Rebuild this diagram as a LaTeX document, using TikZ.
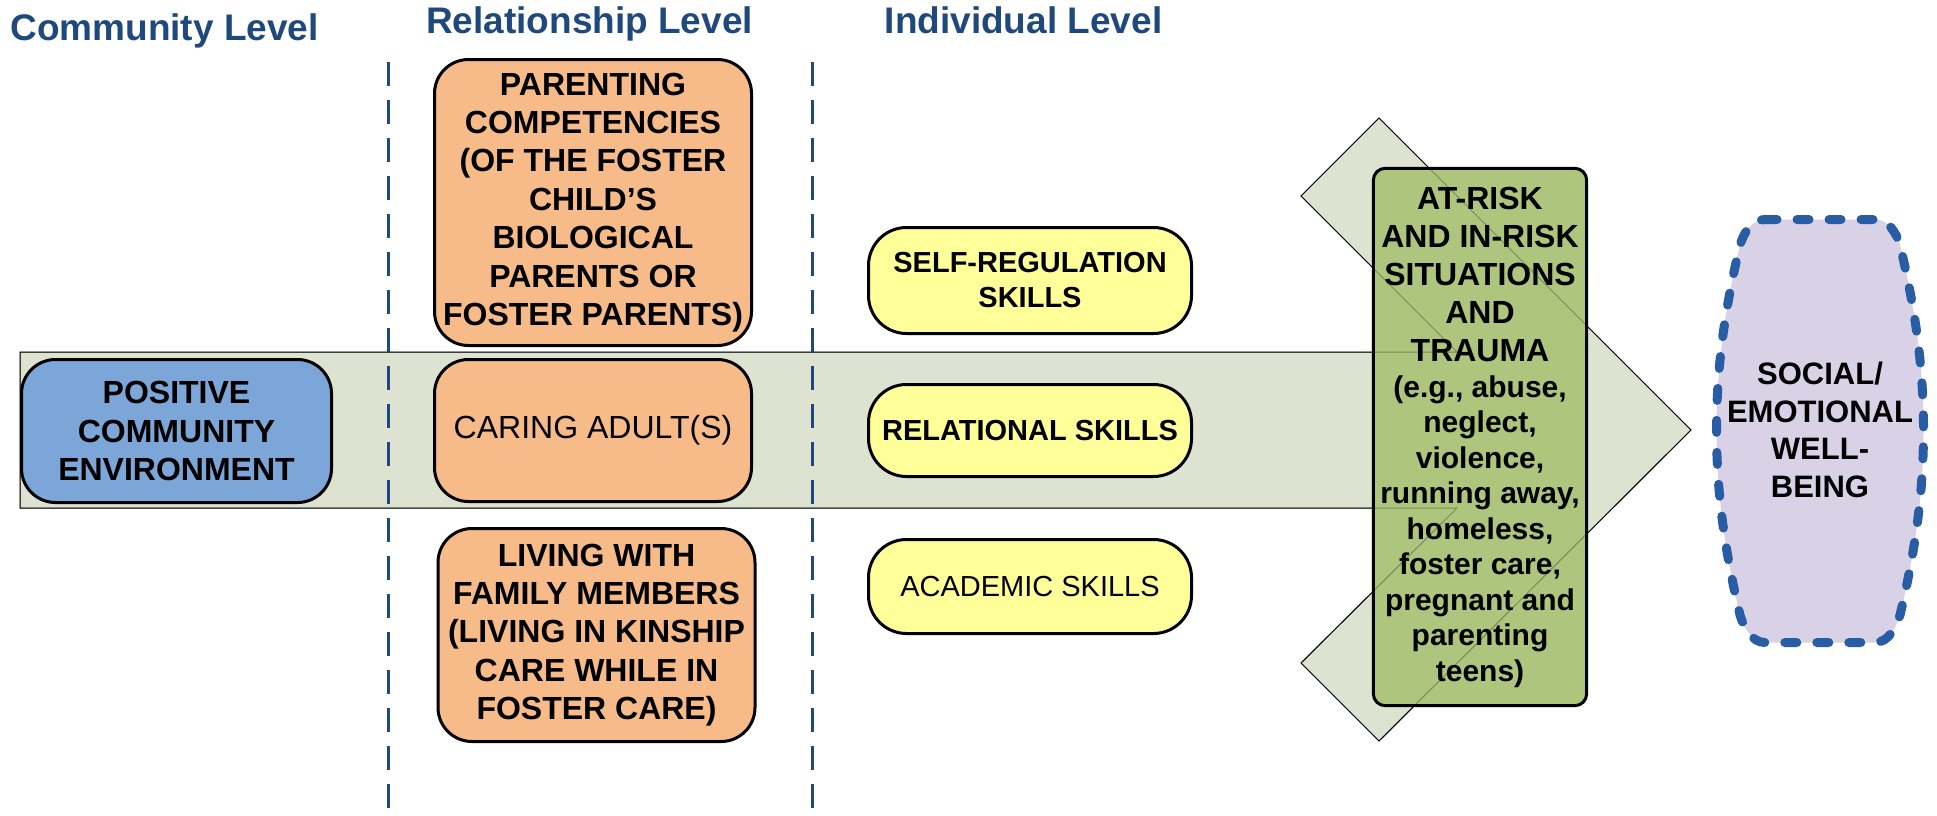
\documentclass[tikz,border=0pt]{standalone}
\usepackage{fontspec}
\setmainfont{Liberation Sans}
\definecolor{hdrc}{RGB}{31,73,125}
\definecolor{arrowc}{RGB}{222,227,209}
\definecolor{bluec}{RGB}{124,165,216}
\definecolor{orangec}{RGB}{246,187,137}
\definecolor{yellowc}{RGB}{255,255,153}
\definecolor{greenc}{RGB}{174,197,125}
\definecolor{purplec}{RGB}{217,210,230}
\definecolor{dashc}{RGB}{40,92,164}
\newcommand\fntBig{\fontsize{32}{38.4}\selectfont}
\newcommand\fntMid{\fontsize{29}{35}\selectfont}
\newcommand\smline[1]{{\fontsize{30}{36}\selectfont #1}}
\tikzset{
  hdrtext/.style={text=hdrc, font=\fontsize{37}{44}\selectfont\bfseries, inner sep=0pt, anchor=base},
  vdash/.style={draw=hdrc, line width=3pt, dash pattern=on 24pt off 14pt},
  rbox/.style={draw=black, line width=3pt, rounded corners=34pt, inner sep=0pt, align=center},
  ybox/.style={rbox, fill=yellowc, rounded corners=38pt, minimum width=323pt},
  obox/.style={rbox, fill=orangec, minimum width=317pt},
}
\begin{document}
\begin{tikzpicture}[x=1pt,y=-1pt]
\useasboundingbox (0,0) rectangle (1937,815);
% headers
\node[hdrtext] (hcom) at (164.5,40) {Community Level};
\node[hdrtext] (hrel) at (589.5,33) {Relationship Level};
\node[hdrtext] (hind) at (1023.5,33) {Individual Level};
% big arrow
\path[fill=arrowc, draw=black, line width=1pt] (20,352) -- (1457,352) -- (1301,196) -- (1379,118) -- (1691,430) -- (1379,741) -- (1301,663) -- (1457,508) -- (20,508) -- cycle;
% dashed separators
\draw[vdash] (388,62) -- (388,815);
\draw[vdash] (812,62) -- (812,815);
% community
\node[rbox, fill=bluec, minimum width=310pt, minimum height=143pt, font=\fntBig\bfseries] (pce) at (176.5,431) {POSITIVE\\COMMUNITY\\ENVIRONMENT};
% relationship
\node[obox, minimum height=286pt, font=\fntBig\bfseries] (pc) at (593,202.5) {PARENTING\\COMPETENCIES\\(OF THE FOSTER\\CHILD’S\\BIOLOGICAL\\PARENTS OR\\FOSTER PARENTS)};
\node[obox, minimum height=142pt, font=\fntBig] (ca) at (593,430.5) {CARING ADULT(S)};
\node[obox, minimum height=213pt, font=\fntBig\bfseries] (lw) at (596.5,635) {LIVING WITH\\FAMILY MEMBERS\\(LIVING IN KINSHIP\\CARE WHILE IN\\FOSTER CARE)};
% individual
\node[ybox, minimum height=106pt, font=\fntMid\bfseries] (sr) at (1030,280.5) {SELF-REGULATION\\SKILLS};
\node[ybox, minimum height=92pt, font=\fntMid\bfseries] (rs) at (1030,430.5) {RELATIONAL SKILLS};
\node[ybox, minimum height=94pt, font=\fntMid] (as) at (1030,586.5) {ACADEMIC SKILLS};
% risk box
\node[draw=none, fill=greenc, rounded corners=12pt, minimum width=213pt, minimum height=537pt, inner sep=0pt] (risk) at (1480,437) {};
\path[draw=black, draw opacity=0.3, line width=1pt] (20,352) -- (1457,352) -- (1301,196) -- (1379,118) -- (1691,430) -- (1379,741) -- (1301,663) -- (1457,508) -- (20,508) -- cycle;
\draw[black, line width=3pt, rounded corners=12pt] (risk.north west) rectangle (risk.south east);
\node[align=center, inner sep=0pt, font=\fontsize{32}{38}\selectfont\bfseries] (risktxt) at (1480,437)
{AT-RISK\\AND IN-RISK\\SITUATIONS\\AND\\TRAUMA\\[-2pt]
\smline{(e.g., abuse,}\\[-2.5pt]\smline{neglect,}\\[-2.5pt]\smline{violence,}\\[-2.5pt]\smline{running away,}\\[-2.5pt]\smline{homeless,}\\[-2.5pt]\smline{foster care,}\\[-2.5pt]\smline{pregnant and}\\[-2.5pt]\smline{parenting}\\[-2.5pt]\smline{teens)}};
% outcome
\path[fill=purplec, draw=dashc, line width=9pt, line cap=round, dash pattern=on 12pt off 20pt]
 (1765,219.5) -- (1875,219.5) .. controls (1888,219.5) and (1896,232) .. (1900,245)
 .. controls (1913,300) and (1923.5,360) .. (1923.5,430)
 .. controls (1923.5,500) and (1913,560) .. (1900,615)
 .. controls (1896,628) and (1888,642.5) .. (1875,642.5)
 -- (1765,642.5) .. controls (1752,642.5) and (1744,628) .. (1740,615)
 .. controls (1727,560) and (1716.5,500) .. (1716.5,430)
 .. controls (1716.5,360) and (1727,300) .. (1740,245)
 .. controls (1744,232) and (1752,219.5) .. (1765,219.5) -- cycle;
\node[align=center, inner sep=0pt, font=\fontsize{31}{37.7}\selectfont\bfseries] (sew) at (1820,430) {SOCIAL/\\EMOTIONAL\\WELL-\\BEING};
\end{tikzpicture}
\end{document}
